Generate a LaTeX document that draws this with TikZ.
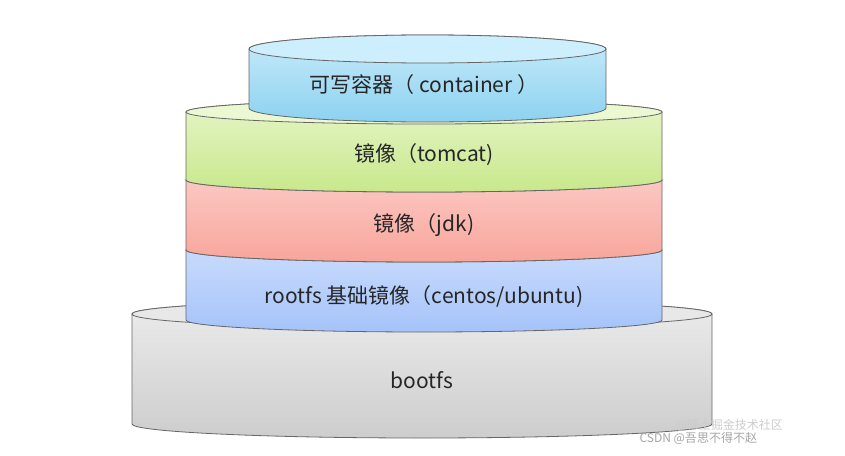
\documentclass[tikz,border=0pt]{standalone}
\usepackage{fontspec}
\setmainfont{Noto Sans CJK SC}
\definecolor{cA}{RGB}{200,235,250}\definecolor{cB}{RGB}{140,210,240}\definecolor{cL}{RGB}{205,238,252}
\definecolor{gA}{RGB}{230,245,200}\definecolor{gB}{RGB}{200,232,140}\definecolor{gL}{RGB}{235,248,210}
\definecolor{rA}{RGB}{252,205,200}\definecolor{rB}{RGB}{248,165,155}
\definecolor{bA}{RGB}{205,222,252}\definecolor{bB}{RGB}{165,195,250}
\definecolor{kA}{RGB}{236,236,236}\definecolor{kB}{RGB}{205,205,205}\definecolor{kL}{RGB}{232,232,232}
\begin{document}
\begin{tikzpicture}[x=1pt,y=-1pt,
  lbl/.style={font=\fontsize{21}{24}\selectfont, text=black!85},
  wm/.style={font=\fontsize{12}{14}\selectfont, text=black!35, anchor=west}]
\useasboundingbox (0,0) rectangle (845,455);
\fill[white] (0,0) rectangle (845,455);
\newcommand{\mycyl}[8]{%
  \pgfmathsetmacro{\rx}{(#2-#1)/2}%
  \path[top color=#6, bottom color=#7, draw=black!60, line width=0.8pt]
    (#1,#3) -- (#1,#4) arc[start angle=180,end angle=0,x radius=\rx,y radius=#5]
    -- (#2,#3) arc[start angle=0,end angle=-180,x radius=\rx,y radius=#5] -- cycle;
  \path[fill=#8, draw=black!60, line width=0.8pt]
    ({(#1+#2)/2},#3) ellipse[x radius=\rx,y radius=#5];
}
\mycyl{132}{712}{314}{424}{14}{kA}{kB}{kL}
\node[lbl] (boot) at (422,380) {bootfs};
\mycyl{186}{662}{250}{320}{12}{bA}{bB}{bA}
\node[lbl] (root) at (424,297) {rootfs 基础镜像（centos/ubuntu)};
\mycyl{186}{662}{180}{250}{12}{rA}{rB}{rA}
\node[lbl] (jdk) at (424,225) {镜像（jdk)};
\mycyl{186}{662}{112}{180}{12}{gA}{gB}{gL}
\node[lbl] (tom) at (424,155) {镜像（tomcat)};
\mycyl{249}{606}{49}{108}{14}{cA}{cB}{cL}
\node[lbl] (cont) at (424,85) {可写容器（ container ）};
\node[wm, text=black!20] (wm2) at (672,425) {@稀土掘金技术社区};
\node[wm] (wm1) at (636,438) {CSDN @吾思不得不赵};
\end{tikzpicture}
\end{document}
